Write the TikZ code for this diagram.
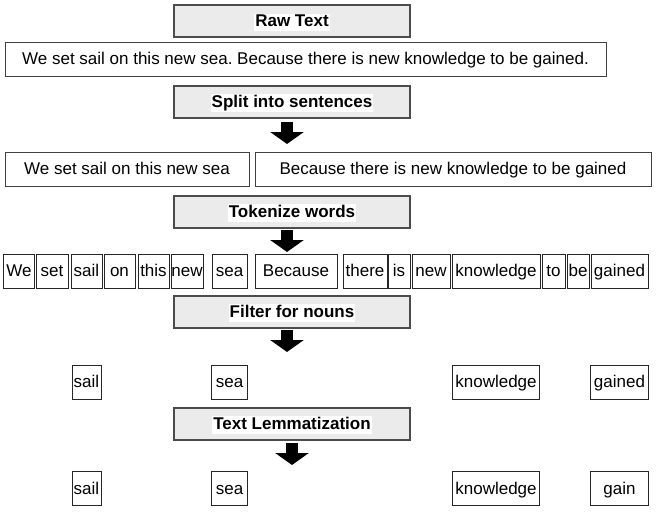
\documentclass[tikz,border=0pt]{standalone}
\usepackage{fontspec}
\setmainfont{Liberation Sans}
\usepackage{tikz}
\usetikzlibrary{positioning,calc,arrows.meta}
\frenchspacing
\tikzset{x=1pt, y=-1pt}
\tikzset{box/.style={draw=black!75,line width=1pt,fill=white,rectangle,inner sep=0pt,minimum height=34,text height=14,text depth=2.5,node font=\fontsize{17}{20}\selectfont}}
\tikzset{tok/.style={box,draw=black!85}}
\tikzset{hd/.style={draw=black!70,line width=1.2pt,fill=black!8,rectangle,inner sep=0pt,minimum width=236,minimum height=32,text height=14,text depth=3,node font=\fontsize{17}{20}\selectfont\bfseries}}
\tikzset{blk/.style={line width=12pt,-{Triangle[width=33pt,length=12pt]}}}
\newcommand{\wbg}[1]{\setlength{\fboxsep}{1pt}\colorbox{white}{\vphantom{Ag}#1}}

\begin{document}
\begin{tikzpicture}
        \useasboundingbox (0,0) rectangle (672,528);
        % steps
        \node[hd] (raw) at (292,21) {\wbg{Raw Text}};
        \node[hd] (split) at (292,102) {\wbg{Split into sentences}};
        \node[hd] (tokz) at (292,212) {\wbg{Tokenize words}};
        \node[hd] (filt) at (292,312) {\wbg{Filter for nouns}};
        \node[hd] (lemz) at (292,424) {\wbg{Text Lemmatization}};
        % text and sentences
        \node[box, minimum width=601] (txt) at (305.5,59) {We set sail on this new sea. Because there is new knowledge to be gained.};
        \node[box, minimum width=244] (s1) at (127,169) {We set sail on this new sea};
        \node[box, minimum width=396] (s2) at (453,169) {Because there is new knowledge to be gained};
        % words
        \node[tok, minimum width=31] (w1) at (19,271) {We};
        \node[tok, minimum width=32] (w2) at (52,271) {set};
        \node[tok, minimum width=31] (w3) at (86.5,271) {sail};
        \node[tok, minimum width=31] (w4) at (119.5,271) {on};
        \node[tok, minimum width=31] (w5) at (153.5,271) {this};
        \node[tok, minimum width=32] (w6) at (187,271) {new};
        \node[tok, minimum width=35] (w7) at (229.5,271) {sea};
        \node[tok, minimum width=82] (w8) at (296,271) {Because};
        \node[tok, minimum width=44] (w9) at (365,271) {there};
        \node[tok, minimum width=22] (w10) at (399,271) {is};
        \node[tok, minimum width=38] (w11) at (431,271) {new};
        \node[tok, minimum width=88] (w12) at (496,271) {knowledge};
        \node[tok, minimum width=23] (w13) at (553.5,271) {to};
        \node[tok, minimum width=22] (w14) at (578,271) {be};
        \node[tok, minimum width=57] (w15) at (619.5,271) {gained};
        % nouns
        \node[tok, minimum width=29] (n1) at (w3 |- 0,382) {sail};
        \node[tok, minimum width=36] (n2) at (w7 |- 0,382) {sea};
        \node[tok, minimum width=87] (n3) at (w12 |- 0,382) {knowledge};
        \node[tok, minimum width=58] (n4) at (w15 |- 0,382) {gained};
        % lemmas
        \node[tok, minimum width=29] (l1) at (n1 |- 0,488.5) {sail};
        \node[tok, minimum width=36] (l2) at (n2 |- 0,488.5) {sea};
        \node[tok, minimum width=87] (l3) at (n3 |- 0,488.5) {knowledge};
        \node[tok, minimum width=58] (l4) at (n4 |- 0,488.5) {gain};
        % block arrows
        \coordinate (a1) at (287,122);
        \coordinate (b1) at (287,144);
        \coordinate (a2) at (287,230);
        \coordinate (b2) at (287,252);
        \coordinate (a3) at (287,330);
        \coordinate (b3) at (287,352);
        \coordinate (a4) at (292,443);
        \coordinate (b4) at (292,465);
        \draw[blk] (a1) -- (b1);
        \draw[blk] (a2) -- (b2);
        \draw[blk] (a3) -- (b3);
        \draw[blk] (a4) -- (b4);
\end{tikzpicture}
\end{document}
